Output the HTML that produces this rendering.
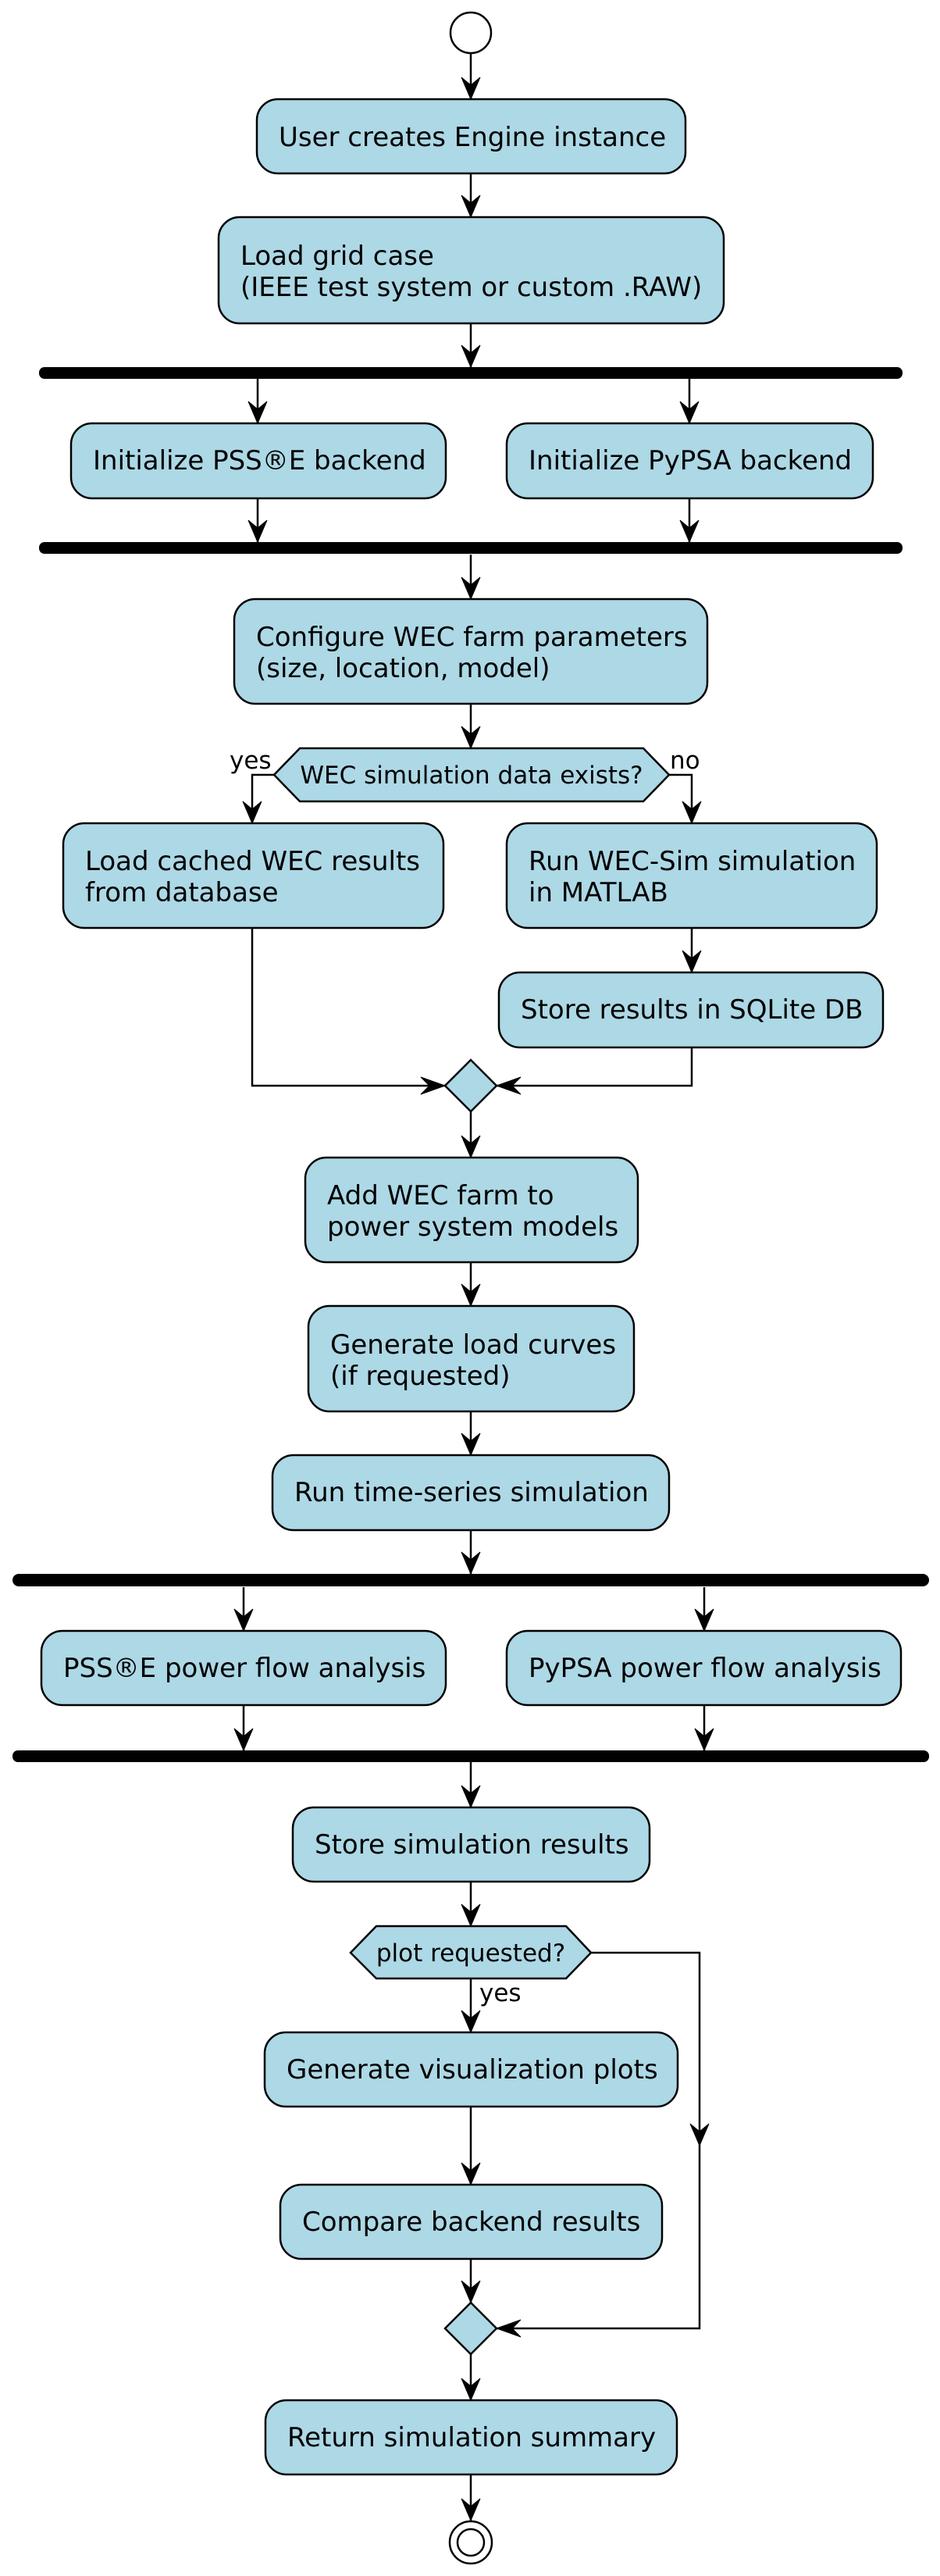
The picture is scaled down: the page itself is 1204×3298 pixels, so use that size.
<!DOCTYPE html>
<html><head><meta charset="utf-8"><style>
html,body{margin:0;padding:0;background:#fff}
svg{display:block}
text{font-family:"DejaVu Sans","Liberation Sans",sans-serif;fill:#000}
.b{fill:#ADD8E6;stroke:#000;stroke-width:2.5}
.t{font-size:34px}
.s{font-size:31px}
.l{stroke:#000;stroke-width:2.5;fill:none}
.a{fill:#000;stroke:#000;stroke-width:1}
</style></head><body>
<svg width="1204" height="3298" viewBox="0 0 1204 3298" xmlns="http://www.w3.org/2000/svg">
<circle cx="603" cy="42" r="26" fill="#fff" stroke="#000" stroke-width="2.5"/>
<path class="l" d="M603 68V127M603 222V278M603 414V470M330 485V542M883 485V542M330 638V694M883 638V694M603 710V767M603 901V958
M351 992H323V1054M857 992H886V1054M886 1188V1245M323 1188V1390H570M886 1341V1390H636M603 1423V1482M603 1616V1672M603 1807V1863M603 1959V2015
M312 2032V2088M902 2032V2088M312 2183V2241M902 2183V2241M603 2256V2314M603 2409V2466M603 2533V2602M603 2697V2797M603 2892V2948M603 3014V3073M603 3168V3227
M757 2500H896V2981H636"/>
<g class="a">
<polygon points="603,127 591,99 603,109 615,99"/>
<polygon points="603,278 591,250 603,260 615,250"/>
<polygon points="603,470 591,442 603,452 615,442"/>
<polygon points="330,542 318,514 330,524 342,514"/>
<polygon points="883,542 871,514 883,524 895,514"/>
<polygon points="330,694 318,666 330,676 342,666"/>
<polygon points="883,694 871,666 883,676 895,666"/>
<polygon points="603,767 591,739 603,749 615,739"/>
<polygon points="603,958 591,930 603,940 615,930"/>
<polygon points="323,1054 311,1026 323,1036 335,1026"/>
<polygon points="886,1054 874,1026 886,1036 898,1026"/>
<polygon points="886,1245 874,1217 886,1227 898,1217"/>
<polygon points="570,1390 539,1379 550,1390 539,1401"/>
<polygon points="636,1390 667,1379 656,1390 667,1401"/>
<polygon points="603,1482 591,1454 603,1464 615,1454"/>
<polygon points="603,1672 591,1644 603,1654 615,1644"/>
<polygon points="603,1863 591,1835 603,1845 615,1835"/>
<polygon points="603,2015 591,1987 603,1997 615,1987"/>
<polygon points="312,2088 300,2060 312,2070 324,2060"/>
<polygon points="902,2088 890,2060 902,2070 914,2060"/>
<polygon points="312,2241 300,2213 312,2223 324,2213"/>
<polygon points="902,2241 890,2213 902,2223 914,2213"/>
<polygon points="603,2314 591,2286 603,2296 615,2286"/>
<polygon points="603,2466 591,2438 603,2448 615,2438"/>
<polygon points="603,2602 591,2574 603,2584 615,2574"/>
<polygon points="603,2797 591,2769 603,2779 615,2769"/>
<polygon points="603,2948 591,2920 603,2930 615,2920"/>
<polygon points="603,3073 591,3045 603,3055 615,3045"/>
<polygon points="603,3227 591,3199 603,3209 615,3199"/>
<polygon points="896,2747 884,2719 896,2729 908,2719"/>
<polygon points="636,2981 667,2970 656,2981 667,2992"/>
</g>
<rect x="50" y="470" width="1106" height="15" rx="7" fill="#000"/>
<rect x="50" y="694" width="1106" height="15" rx="7" fill="#000"/>
<rect x="16" y="2015" width="1174" height="16" rx="8" fill="#000"/>
<rect x="16" y="2241" width="1174" height="15" rx="7" fill="#000"/>
<rect class="b" x="329" y="127" width="549" height="95" rx="27"/>
<text class="t" x="357" y="187">User creates Engine instance</text>
<rect class="b" x="280" y="278" width="647" height="136" rx="27"/>
<text class="t" x="308" y="339">Load grid case</text>
<text class="t" x="308" y="379">(IEEE test system or custom .RAW)</text>
<rect class="b" x="91" y="542" width="480" height="96" rx="27"/>
<text class="t" x="119" y="601">Initialize PSS®E backend</text>
<rect class="b" x="649" y="542" width="469" height="96" rx="27"/>
<text class="t" x="677" y="601">Initialize PyPSA backend</text>
<rect class="b" x="300" y="767" width="606" height="134" rx="27"/>
<text class="t" x="328" y="827">Configure WEC farm parameters</text>
<text class="t" x="328" y="867">(size, location, model)</text>
<polygon class="b" points="351,992 384,958 824,958 857,992 824,1026 384,1026"/>
<text class="s" x="604" y="1003" text-anchor="middle">WEC simulation data exists?</text>
<text class="s" x="294" y="984">yes</text>
<text class="s" x="858" y="984">no</text>
<rect class="b" x="81" y="1054" width="487" height="134" rx="27"/>
<text class="t" x="109" y="1114">Load cached WEC results</text>
<text class="t" x="109" y="1154">from database</text>
<rect class="b" x="649" y="1054" width="474" height="134" rx="27"/>
<text class="t" x="677" y="1114">Run WEC-Sim simulation</text>
<text class="t" x="677" y="1154">in MATLAB</text>
<rect class="b" x="639" y="1245" width="492" height="96" rx="27"/>
<text class="t" x="667" y="1304">Store results in SQLite DB</text>
<polygon class="b" points="603,1357 636,1390 603,1423 570,1390"/>
<rect class="b" x="391" y="1482" width="426" height="134" rx="27"/>
<text class="t" x="419" y="1542">Add WEC farm to</text>
<text class="t" x="419" y="1582">power system models</text>
<rect class="b" x="395" y="1672" width="417" height="135" rx="27"/>
<text class="t" x="423" y="1733">Generate load curves</text>
<text class="t" x="423" y="1773">(if requested)</text>
<rect class="b" x="349" y="1863" width="508" height="96" rx="27"/>
<text class="t" x="377" y="1922">Run time-series simulation</text>
<rect class="b" x="53" y="2088" width="518" height="95" rx="27"/>
<text class="t" x="81" y="2147">PSS®E power flow analysis</text>
<rect class="b" x="649" y="2088" width="505" height="95" rx="27"/>
<text class="t" x="677" y="2147">PyPSA power flow analysis</text>
<rect class="b" x="375" y="2314" width="457" height="95" rx="27"/>
<text class="t" x="403" y="2373">Store simulation results</text>
<polygon class="b" points="449,2500 482,2466 725,2466 757,2500 725,2533 482,2533"/>
<text class="s" x="603" y="2511" text-anchor="middle">plot requested?</text>
<text class="s" x="614" y="2562">yes</text>
<rect class="b" x="339" y="2602" width="529" height="95" rx="27"/>
<text class="t" x="367" y="2661">Generate visualization plots</text>
<rect class="b" x="359" y="2797" width="489" height="95" rx="27"/>
<text class="t" x="387" y="2856">Compare backend results</text>
<polygon class="b" points="603,2948 636,2981 603,3014 570,2981"/>
<rect class="b" x="340" y="3073" width="527" height="95" rx="27"/>
<text class="t" x="368" y="3132">Return simulation summary</text>
<circle cx="603" cy="3255" r="27" fill="#fff" stroke="#000" stroke-width="2.5"/>
<circle cx="603" cy="3255" r="17" fill="#fff" stroke="#000" stroke-width="2.5"/>
</svg>
</body></html>
